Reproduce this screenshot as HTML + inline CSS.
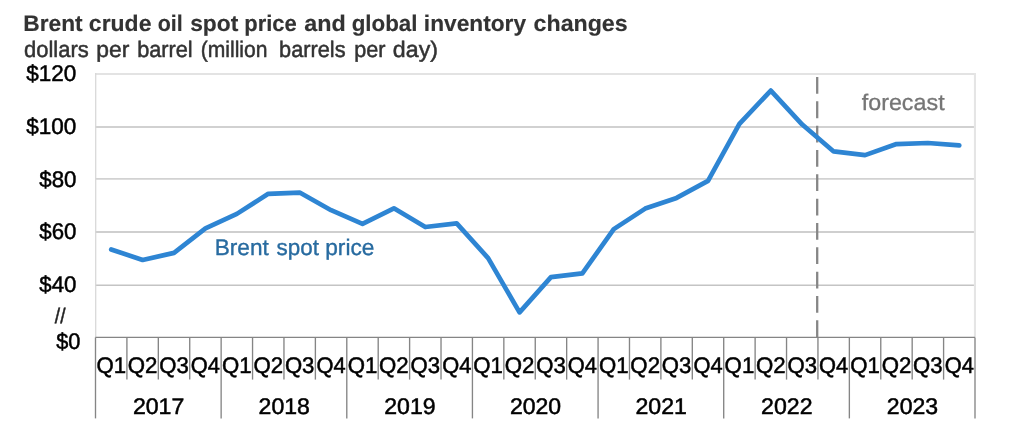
<!DOCTYPE html>
<html lang="en"><head><meta charset="utf-8"><title>Brent crude oil spot price and global inventory changes</title>
<style>
html,body{margin:0;padding:0;background:#fff;}
body{width:1024px;height:422px;overflow:hidden;}
svg{display:block;font-family:"Liberation Sans",Arial,sans-serif;text-rendering:geometricPrecision;filter:blur(0.45px);}
</style></head><body>
<svg width="1024" height="422" viewBox="0 0 1024 422">
<rect width="1024" height="422" fill="#fff"/>
<g fill="none">
<line x1="95.1" y1="74.0" x2="975.9" y2="74.0" stroke="#e3e3e3" stroke-width="2.0"/>
<line x1="95.1" y1="127.0" x2="975.9" y2="127.0" stroke="#d1d1d1" stroke-width="2.0"/>
<line x1="95.1" y1="178.9" x2="975.9" y2="178.9" stroke="#d2d2d2" stroke-width="1.9"/>
<line x1="95.1" y1="232.0" x2="975.9" y2="232.0" stroke="#cfcfcf" stroke-width="2.0"/>
<line x1="95.1" y1="285.25" x2="975.9" y2="285.25" stroke="#c4c4c4" stroke-width="1.5"/>
<line x1="95.7" y1="73" x2="95.7" y2="337.4" stroke="#d8d8d8" stroke-width="1.25"/>
<line x1="974.95" y1="73" x2="974.95" y2="337.4" stroke="#e5e5e5" stroke-width="2.1"/>
</g>
<g stroke="#858585" stroke-width="1.35" fill="none">
<line x1="95.5" y1="337.4" x2="975.0" y2="337.4"/>
<line x1="95.50" y1="337.4" x2="95.50" y2="418.4"/>
<line x1="126.91" y1="337.4" x2="126.91" y2="379.6"/>
<line x1="158.32" y1="337.4" x2="158.32" y2="379.6"/>
<line x1="189.73" y1="337.4" x2="189.73" y2="379.6"/>
<line x1="221.14" y1="337.4" x2="221.14" y2="418.4"/>
<line x1="252.55" y1="337.4" x2="252.55" y2="379.6"/>
<line x1="283.96" y1="337.4" x2="283.96" y2="379.6"/>
<line x1="315.38" y1="337.4" x2="315.38" y2="379.6"/>
<line x1="346.79" y1="337.4" x2="346.79" y2="418.4"/>
<line x1="378.20" y1="337.4" x2="378.20" y2="379.6"/>
<line x1="409.61" y1="337.4" x2="409.61" y2="379.6"/>
<line x1="441.02" y1="337.4" x2="441.02" y2="379.6"/>
<line x1="472.43" y1="337.4" x2="472.43" y2="418.4"/>
<line x1="503.84" y1="337.4" x2="503.84" y2="379.6"/>
<line x1="535.25" y1="337.4" x2="535.25" y2="379.6"/>
<line x1="566.66" y1="337.4" x2="566.66" y2="379.6"/>
<line x1="598.07" y1="337.4" x2="598.07" y2="418.4"/>
<line x1="629.48" y1="337.4" x2="629.48" y2="379.6"/>
<line x1="660.89" y1="337.4" x2="660.89" y2="379.6"/>
<line x1="692.30" y1="337.4" x2="692.30" y2="379.6"/>
<line x1="723.71" y1="337.4" x2="723.71" y2="418.4"/>
<line x1="755.12" y1="337.4" x2="755.12" y2="379.6"/>
<line x1="786.54" y1="337.4" x2="786.54" y2="379.6"/>
<line x1="817.95" y1="337.4" x2="817.95" y2="379.6"/>
<line x1="849.36" y1="337.4" x2="849.36" y2="418.4"/>
<line x1="880.77" y1="337.4" x2="880.77" y2="379.6"/>
<line x1="912.18" y1="337.4" x2="912.18" y2="379.6"/>
<line x1="943.59" y1="337.4" x2="943.59" y2="379.6"/>
<line x1="975.00" y1="337.4" x2="975.00" y2="418.4"/>
</g>
<line x1="817.2" y1="77" x2="817.2" y2="337.4" stroke="#868686" stroke-width="2.3" stroke-dasharray="16.8 7.53"/>
<polyline points="111.21,249.42 142.62,259.96 174.03,252.85 205.44,228.35 236.85,213.87 268.26,193.85 299.67,192.53 331.08,210.18 362.49,223.87 393.90,208.33 425.31,227.04 456.72,223.35 488.13,258.12 519.54,312.38 550.96,277.08 582.37,273.39 613.78,229.14 645.19,208.60 676.60,197.93 708.01,180.94 739.42,123.78 770.83,90.59 802.24,124.57 833.65,151.44 865.06,155.13 896.47,144.06 927.88,143.01 959.29,145.38" fill="none" stroke="#2e85d3" stroke-width="4.7" stroke-linejoin="round" stroke-linecap="round"/>
<text y="31.00" font-size="22.6" fill="#333" stroke="#333" stroke-width="0.15" font-weight="bold"><tspan x="23.35" textLength="59.35" lengthAdjust="spacingAndGlyphs">Brent</tspan> <tspan x="88.88" textLength="62.53" lengthAdjust="spacingAndGlyphs">crude</tspan> <tspan x="157.64" textLength="25.01" lengthAdjust="spacingAndGlyphs">oil</tspan> <tspan x="190.17" textLength="48.13" lengthAdjust="spacingAndGlyphs">spot</tspan> <tspan x="244.23" textLength="52.55" lengthAdjust="spacingAndGlyphs">price</tspan> <tspan x="304.29" textLength="41.47" lengthAdjust="spacingAndGlyphs">and</tspan> <tspan x="351.66" textLength="65.85" lengthAdjust="spacingAndGlyphs">global</tspan> <tspan x="423.89" textLength="102.16" lengthAdjust="spacingAndGlyphs">inventory</tspan> <tspan x="533.57" textLength="94.11" lengthAdjust="spacingAndGlyphs">changes</tspan></text>
<text y="57.00" font-size="22.6" fill="#333" stroke="#333" stroke-width="0.5" font-weight="normal"><tspan x="23.93" textLength="64.82" lengthAdjust="spacingAndGlyphs">dollars</tspan> <tspan x="96.38" textLength="33.05" lengthAdjust="spacingAndGlyphs">per</tspan> <tspan x="137.15" textLength="55.55" lengthAdjust="spacingAndGlyphs">barrel</tspan> <tspan x="200.74" textLength="66.78" lengthAdjust="spacingAndGlyphs">(million</tspan> <tspan x="279.05" textLength="66.49" lengthAdjust="spacingAndGlyphs">barrels</tspan> <tspan x="354.26" textLength="31.25" lengthAdjust="spacingAndGlyphs">per</tspan> <tspan x="392.88" textLength="45.11" lengthAdjust="spacingAndGlyphs">day)</tspan></text>
<text y="81.00" font-size="22.6" fill="#000" stroke="#000" stroke-width="0.5" font-weight="normal"><tspan x="26.36" textLength="50.02" lengthAdjust="spacingAndGlyphs">$120</tspan></text>
<text y="134.00" font-size="22.6" fill="#000" stroke="#000" stroke-width="0.5" font-weight="normal"><tspan x="26.36" textLength="50.02" lengthAdjust="spacingAndGlyphs">$100</tspan></text>
<text y="187.00" font-size="22.6" fill="#000" stroke="#000" stroke-width="0.5" font-weight="normal"><tspan x="39.31" textLength="37.06" lengthAdjust="spacingAndGlyphs">$80</tspan></text>
<text y="239.00" font-size="22.6" fill="#000" stroke="#000" stroke-width="0.5" font-weight="normal"><tspan x="39.31" textLength="37.06" lengthAdjust="spacingAndGlyphs">$60</tspan></text>
<text y="292.00" font-size="22.6" fill="#000" stroke="#000" stroke-width="0.5" font-weight="normal"><tspan x="39.31" textLength="37.06" lengthAdjust="spacingAndGlyphs">$40</tspan></text>
<text y="349.00" font-size="22.6" fill="#000" stroke="#000" stroke-width="0.5" font-weight="normal"><tspan x="56.22" textLength="24.18" lengthAdjust="spacingAndGlyphs">$0</tspan></text>
<text y="323.00" font-size="21" fill="#222" stroke="#222" stroke-width="0.5" font-weight="normal"><tspan x="54.85" textLength="10.60" lengthAdjust="spacingAndGlyphs">//</tspan></text>
<text y="255.00" font-size="22.6" fill="#286ba0" stroke="#286ba0" stroke-width="0.35" font-weight="normal"><tspan x="214.72" textLength="54.07" lengthAdjust="spacingAndGlyphs">Brent</tspan> <tspan x="276.45" textLength="42.44" lengthAdjust="spacingAndGlyphs">spot</tspan> <tspan x="325.21" textLength="49.22" lengthAdjust="spacingAndGlyphs">price</tspan></text>
<text y="109.50" font-size="22.6" fill="#767676" stroke="#767676" stroke-width="0.3" font-weight="normal"><tspan x="861.72" textLength="82.90" lengthAdjust="spacingAndGlyphs">forecast</tspan></text>
<text x="96.39" y="373.00" font-size="22.6" fill="#000" stroke="#000" stroke-width="0.5" textLength="29.64" lengthAdjust="spacingAndGlyphs">Q1</text>
<text x="127.78" y="373.00" font-size="22.6" fill="#000" stroke="#000" stroke-width="0.5" textLength="29.67" lengthAdjust="spacingAndGlyphs">Q2</text>
<text x="159.27" y="373.00" font-size="22.6" fill="#000" stroke="#000" stroke-width="0.5" textLength="29.52" lengthAdjust="spacingAndGlyphs">Q3</text>
<text x="190.85" y="373.00" font-size="22.6" fill="#000" stroke="#000" stroke-width="0.5" textLength="29.18" lengthAdjust="spacingAndGlyphs">Q4</text>
<text x="222.03" y="373.00" font-size="22.6" fill="#000" stroke="#000" stroke-width="0.5" textLength="29.64" lengthAdjust="spacingAndGlyphs">Q1</text>
<text x="253.42" y="373.00" font-size="22.6" fill="#000" stroke="#000" stroke-width="0.5" textLength="29.67" lengthAdjust="spacingAndGlyphs">Q2</text>
<text x="284.91" y="373.00" font-size="22.6" fill="#000" stroke="#000" stroke-width="0.5" textLength="29.52" lengthAdjust="spacingAndGlyphs">Q3</text>
<text x="316.49" y="373.00" font-size="22.6" fill="#000" stroke="#000" stroke-width="0.5" textLength="29.18" lengthAdjust="spacingAndGlyphs">Q4</text>
<text x="347.67" y="373.00" font-size="22.6" fill="#000" stroke="#000" stroke-width="0.5" textLength="29.64" lengthAdjust="spacingAndGlyphs">Q1</text>
<text x="379.07" y="373.00" font-size="22.6" fill="#000" stroke="#000" stroke-width="0.5" textLength="29.67" lengthAdjust="spacingAndGlyphs">Q2</text>
<text x="410.55" y="373.00" font-size="22.6" fill="#000" stroke="#000" stroke-width="0.5" textLength="29.52" lengthAdjust="spacingAndGlyphs">Q3</text>
<text x="442.13" y="373.00" font-size="22.6" fill="#000" stroke="#000" stroke-width="0.5" textLength="29.18" lengthAdjust="spacingAndGlyphs">Q4</text>
<text x="473.32" y="373.00" font-size="22.6" fill="#000" stroke="#000" stroke-width="0.5" textLength="29.64" lengthAdjust="spacingAndGlyphs">Q1</text>
<text x="504.71" y="373.00" font-size="22.6" fill="#000" stroke="#000" stroke-width="0.5" textLength="29.67" lengthAdjust="spacingAndGlyphs">Q2</text>
<text x="536.20" y="373.00" font-size="22.6" fill="#000" stroke="#000" stroke-width="0.5" textLength="29.52" lengthAdjust="spacingAndGlyphs">Q3</text>
<text x="567.78" y="373.00" font-size="22.6" fill="#000" stroke="#000" stroke-width="0.5" textLength="29.18" lengthAdjust="spacingAndGlyphs">Q4</text>
<text x="598.96" y="373.00" font-size="22.6" fill="#000" stroke="#000" stroke-width="0.5" textLength="29.64" lengthAdjust="spacingAndGlyphs">Q1</text>
<text x="630.35" y="373.00" font-size="22.6" fill="#000" stroke="#000" stroke-width="0.5" textLength="29.67" lengthAdjust="spacingAndGlyphs">Q2</text>
<text x="661.84" y="373.00" font-size="22.6" fill="#000" stroke="#000" stroke-width="0.5" textLength="29.52" lengthAdjust="spacingAndGlyphs">Q3</text>
<text x="693.42" y="373.00" font-size="22.6" fill="#000" stroke="#000" stroke-width="0.5" textLength="29.18" lengthAdjust="spacingAndGlyphs">Q4</text>
<text x="724.60" y="373.00" font-size="22.6" fill="#000" stroke="#000" stroke-width="0.5" textLength="29.64" lengthAdjust="spacingAndGlyphs">Q1</text>
<text x="755.99" y="373.00" font-size="22.6" fill="#000" stroke="#000" stroke-width="0.5" textLength="29.67" lengthAdjust="spacingAndGlyphs">Q2</text>
<text x="787.48" y="373.00" font-size="22.6" fill="#000" stroke="#000" stroke-width="0.5" textLength="29.52" lengthAdjust="spacingAndGlyphs">Q3</text>
<text x="819.06" y="373.00" font-size="22.6" fill="#000" stroke="#000" stroke-width="0.5" textLength="29.18" lengthAdjust="spacingAndGlyphs">Q4</text>
<text x="850.24" y="373.00" font-size="22.6" fill="#000" stroke="#000" stroke-width="0.5" textLength="29.64" lengthAdjust="spacingAndGlyphs">Q1</text>
<text x="881.64" y="373.00" font-size="22.6" fill="#000" stroke="#000" stroke-width="0.5" textLength="29.67" lengthAdjust="spacingAndGlyphs">Q2</text>
<text x="913.12" y="373.00" font-size="22.6" fill="#000" stroke="#000" stroke-width="0.5" textLength="29.52" lengthAdjust="spacingAndGlyphs">Q3</text>
<text x="944.71" y="373.00" font-size="22.6" fill="#000" stroke="#000" stroke-width="0.5" textLength="29.18" lengthAdjust="spacingAndGlyphs">Q4</text>
<text x="132.91" y="414.00" font-size="22.6" fill="#000" stroke="#000" stroke-width="0.5" textLength="51.43" lengthAdjust="spacingAndGlyphs">2017</text>
<text x="258.63" y="414.00" font-size="22.6" fill="#000" stroke="#000" stroke-width="0.5" textLength="51.26" lengthAdjust="spacingAndGlyphs">2018</text>
<text x="384.23" y="414.00" font-size="22.6" fill="#000" stroke="#000" stroke-width="0.5" textLength="51.35" lengthAdjust="spacingAndGlyphs">2019</text>
<text x="509.97" y="414.00" font-size="22.6" fill="#000" stroke="#000" stroke-width="0.5" textLength="51.15" lengthAdjust="spacingAndGlyphs">2020</text>
<text x="635.50" y="414.00" font-size="22.6" fill="#000" stroke="#000" stroke-width="0.5" textLength="51.39" lengthAdjust="spacingAndGlyphs">2021</text>
<text x="761.12" y="414.00" font-size="22.6" fill="#000" stroke="#000" stroke-width="0.5" textLength="51.43" lengthAdjust="spacingAndGlyphs">2022</text>
<text x="886.84" y="414.00" font-size="22.6" fill="#000" stroke="#000" stroke-width="0.5" textLength="51.27" lengthAdjust="spacingAndGlyphs">2023</text>
</svg></body></html>
